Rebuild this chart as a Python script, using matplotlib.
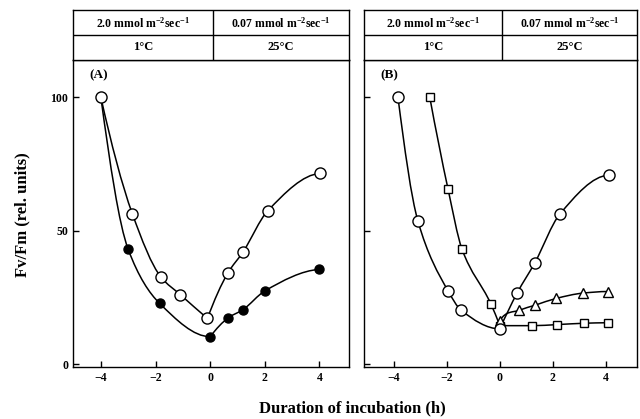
import numpy as np
import matplotlib
matplotlib.use("Agg")
import matplotlib.pyplot as plt
from matplotlib.path import Path
from matplotlib.patches import PathPatch

plt.rcParams['font.family'] = ['Liberation Serif', 'DejaVu Serif']
plt.rcParams['font.weight'] = 'bold'
plt.rcParams['mathtext.fontset'] = 'custom'
plt.rcParams['mathtext.rm'] = 'Liberation Serif:bold'
plt.rcParams['mathtext.it'] = 'Liberation Serif:bold'
plt.rcParams['mathtext.bf'] = 'Liberation Serif:bold'
plt.rcParams['mathtext.default'] = 'rm'

# ---- data ----
# Panel A, open circles
a_open_x = [-4.0, -2.85, -1.8, -1.09, -0.1, 0.65, 1.2, 2.11, 4.02]
a_open_y = [100, 56.4, 32.6, 26.0, 17.1, 34.2, 42.0, 57.5, 71.5]
a_open_split = 4
# Panel A, filled circles (curve starts at the shared 100 point)
a_fill_x = [-3.0, -1.85, 0.0, 0.67, 1.2, 2.01, 4.0]
a_fill_y = [43.0, 22.75, 10.25, 17.4, 20.4, 27.5, 35.5]
a_fill_curve_x = [-4.0, -3.0, -1.85, 0.0, 0.67, 1.2, 2.01, 4.0]
a_fill_curve_y = [100, 43.0, 22.75, 10.25, 17.4, 20.4, 27.5, 35.5]
a_fill_split = 3

# Panel B, circles
b_circ_x = [-3.84, -3.09, -1.95, -1.46, 0.0, 0.65, 1.32, 2.26, 4.1]
b_circ_y = [100, 53.7, 27.4, 20.2, 13.2, 26.6, 38.0, 56.2, 70.8]
b_circ_split = 4
# Panel B, squares
b_sq_x = [-2.64, -1.95, -1.43, -0.34, 0.0, 1.23, 2.16, 3.17, 4.06]
b_sq_y = [100, 65.5, 43.2, 22.6, 14.4, 14.4, 14.8, 15.3, 15.5]
b_sq_split = 4
# Panel B, triangles
b_tri_x = [0.0, 0.74, 1.34, 2.12, 3.13, 4.06]
b_tri_y = [16.3, 20.2, 22.1, 24.6, 26.6, 27.2]

xticks = [-4, -2, 0, 2, 4]
yticks = [0, 50, 100]
header_top = ["2.0 mmol m$^{-2}$sec$^{-1}$", "0.07 mmol m$^{-2}$sec$^{-1}$"]
header_bot = ["1\u00b0C", "25\u00b0C"]
panel_labels = ["(A)", "(B)"]
ylabel = "Fv/Fm (rel. units)"
xlabel = "Duration of incubation (h)"


def pchip_slopes(x, y):
    x = np.asarray(x, float); y = np.asarray(y, float)
    h = np.diff(x); d = np.diff(y) / h
    n = len(x)
    m = np.zeros(n)
    if n == 2:
        m[:] = d[0]
        return m
    for k in range(1, n - 1):
        if d[k - 1] * d[k] <= 0:
            m[k] = 0
        else:
            w1 = 2 * h[k] + h[k - 1]; w2 = h[k] + 2 * h[k - 1]
            m[k] = (w1 + w2) / (w1 / d[k - 1] + w2 / d[k])
    m[0] = ((2 * h[0] + h[1]) * d[0] - h[0] * d[1]) / (h[0] + h[1])
    if m[0] * d[0] <= 0: m[0] = 0
    elif d[0] * d[1] <= 0 and abs(m[0]) > abs(3 * d[0]): m[0] = 3 * d[0]
    m[-1] = ((2 * h[-1] + h[-2]) * d[-1] - h[-1] * d[-2]) / (h[-1] + h[-2])
    if m[-1] * d[-1] <= 0: m[-1] = 0
    elif d[-1] * d[-2] <= 0 and abs(m[-1]) > abs(3 * d[-1]): m[-1] = 3 * d[-1]
    return m


def smooth_curve(ax, x, y, lw=1.1):
    x = np.asarray(x, float); y = np.asarray(y, float)
    m = pchip_slopes(x, y)
    verts = [(x[0], y[0])]
    codes = [Path.MOVETO]
    for i in range(len(x) - 1):
        h = x[i + 1] - x[i]
        verts += [(x[i] + h / 3, y[i] + m[i] * h / 3),
                  (x[i + 1] - h / 3, y[i + 1] - m[i + 1] * h / 3),
                  (x[i + 1], y[i + 1])]
        codes += [Path.CURVE4] * 3
    ax.add_patch(PathPatch(Path(verts, codes), fill=False, ec='black', lw=lw, zorder=2))


def split_curve(ax, x, y, k):
    smooth_curve(ax, x[:k + 1], y[:k + 1])
    smooth_curve(ax, x[k:], y[k:])


fig = plt.figure(figsize=(6.4, 4.19), dpi=100)
W, H = 640, 419

panels = [(73, 349, 213), (364, 637, 502)]
axes = []
for (l, r, mid), lab in zip(panels, panel_labels):
    ax = fig.add_axes([l / W, 1 - 367 / H, (r - l) / W, (367 - 60) / H])
    axes.append(ax)
    # header box
    hax = fig.add_axes([l / W, 1 - 60 / H, (r - l) / W, (60 - 10) / H])
    hax.set_xlim(l, r); hax.set_ylim(60, 10)
    hax.set_xticks([]); hax.set_yticks([])
    for s in hax.spines.values():
        s.set_linewidth(1.0)
    hax.axhline(35, color='black', lw=1.0)
    hax.plot([mid, mid], [10, 60], color='black', lw=1.0)
    hax.text((l + mid) / 2, 23, header_top[0], ha='center', va='center', fontsize=8.5)
    hax.text((mid + r) / 2, 23, header_top[1], ha='center', va='center', fontsize=8.5)
    hax.text((l + mid) / 2, 47.5, header_bot[0], ha='center', va='center', fontsize=9)
    hax.text((mid + r) / 2, 47.5, header_bot[1], ha='center', va='center', fontsize=9)

    ax.text(0.06, 0.95, lab, transform=ax.transAxes, ha='left', va='center',
            fontsize=9.5, fontweight='bold')
    ax.set_ylim(-1.1, 114)
    ax.set_xticks(xticks)
    ax.set_yticks(yticks)
    ax.set_xticklabels([str(t).replace('-', '\u2212') for t in xticks])
    ax.tick_params(direction='in', length=4, width=1.0, labelsize=8.5)
    for s in ax.spines.values():
        s.set_linewidth(1.0)

axA, axB = axes
axA.set_xlim(-5.02, 5.08)
axB.set_xlim(-5.12, 5.17)
axB.set_yticklabels([])
axA.set_yticklabels([str(t) for t in yticks])

# Panel A
split_curve(axA, a_open_x, a_open_y, a_open_split)
split_curve(axA, a_fill_curve_x, a_fill_curve_y, a_fill_split)
axA.plot(a_fill_x, a_fill_y, 'o', ms=6.5, mfc='black', mec='black', zorder=3)
axA.plot(a_open_x, a_open_y, 'o', ms=8, mfc='white', mec='black', mew=1.0, zorder=4)

# Panel B
split_curve(axB, b_circ_x, b_circ_y, b_circ_split)
split_curve(axB, b_sq_x, b_sq_y, b_sq_split)
smooth_curve(axB, [b_circ_x[b_circ_split]] + b_tri_x, [b_circ_y[b_circ_split]] + b_tri_y)
axB.plot(b_sq_x, b_sq_y, 's', ms=6, mfc='white', mec='black', mew=1.0, zorder=3)
axB.plot(b_tri_x, b_tri_y, '^', ms=6.5, mfc='white', mec='black', mew=1.0, zorder=3)
axB.plot(b_circ_x, b_circ_y, 'o', ms=8, mfc='white', mec='black', mew=1.0, zorder=4)

fig.text(22 / W, 1 - 215 / H, ylabel, rotation=90, ha='center', va='center',
         fontsize=12, fontweight='bold')
fig.text(352 / W, 1 - 408 / H, xlabel, ha='center', va='center',
         fontsize=12, fontweight='bold')

fig.savefig("out.png", dpi=100)
